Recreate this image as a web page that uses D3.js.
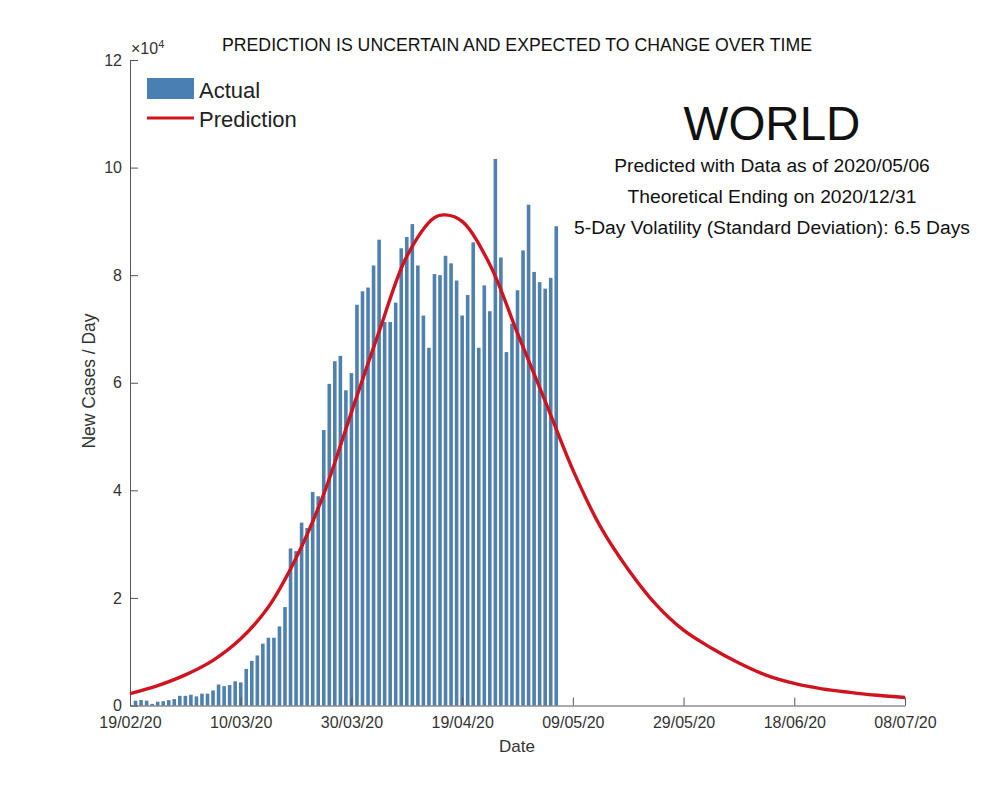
<!DOCTYPE html>
<html>
<head>
<meta charset="utf-8">
<script src="https://cdnjs.cloudflare.com/ajax/libs/d3/7.8.5/d3.min.js"></script>
<style>
    body { margin: 0; background: #fff; }
    text { font-family: "Liberation Sans", Arial, sans-serif; }
</style>
</head>
<body>
<div id="chart"></div>
<script>
// daily new cases, in units of 10^4, first bar is day 1 after 19/02/20
var actualValues = [
    0.09, 0.10, 0.09, 0.03, 0.07, 0.08, 0.10, 0.12, 0.18, 0.18,
    0.20, 0.17, 0.22, 0.22, 0.28, 0.39, 0.36, 0.38, 0.45, 0.43,
    0.68, 0.83, 0.93, 1.15, 1.26, 1.26, 1.47, 1.83, 2.92, 2.87,
    3.40, 3.30, 3.97, 3.89, 5.12, 5.98, 6.40, 6.50, 5.86, 6.18,
    7.45, 7.70, 7.77, 8.18, 8.66, 7.13, 7.13, 7.49, 8.50, 8.71,
    8.95, 8.18, 7.25, 6.65, 8.02, 8.00, 8.36, 8.22, 7.90, 7.25,
    7.63, 8.61, 6.65, 7.81, 7.33, 10.16, 8.33, 6.57, 7.10, 7.72,
    8.46, 9.31, 8.06, 7.87, 7.75, 7.95, 8.91
];

// prediction curve
var predDays = [0, 5, 10, 15, 20, 25, 30, 35, 40, 45, 50, 55, 57, 60, 65, 70, 75, 80, 85, 90, 95, 100, 105, 110, 115, 120, 125, 130, 135, 140];
var predValues = [0.22, 0.37, 0.57, 0.84, 1.24, 1.83, 2.74, 3.93, 5.45, 6.95, 8.35, 9.07, 9.12, 9.00, 8.20, 6.92, 5.66, 4.38, 3.32, 2.53, 1.88, 1.40, 1.07, 0.79, 0.56, 0.41, 0.31, 0.245, 0.19, 0.15];

var xTickDays = [0, 20, 40, 60, 80, 100, 120, 140];
var xTickLabels = ["19/02/20", "10/03/20", "30/03/20", "19/04/20", "09/05/20", "29/05/20", "18/06/20", "08/07/20"];
var yTicks = [0, 2, 4, 6, 8, 10, 12];
var infoLines = ["Predicted with Data as of 2020/05/06", "Theoretical Ending on 2020/12/31", "5-Day Volatility (Standard Deviation): 6.5 Days"];
var infoY = [172, 203, 234];

var width = 1000, height = 793;
var axisColor = "#555";
var textColor = "#333";
var barColor = "#4f80ae";
var lineColor = "#d0141f";

var svg = d3.select("#chart").append("svg")
    .attr("width", width)
    .attr("height", height)
    .style("display", "block");

var xScale = d3.scaleLinear().domain([0, 140]).range([130, 905]);
var yScale = d3.scaleLinear().domain([0, 12]).range([705.5, 60]);

// bars
svg.append("g").selectAll("rect")
    .data(actualValues)
    .enter().append("rect")
    .attr("x", function(d, i) { return xScale(i + 1) - 1.8; })
    .attr("y", function(d) { return yScale(d); })
    .attr("width", 3.6)
    .attr("height", function(d) { return yScale(0) - yScale(d); })
    .attr("fill", barColor);

// axes
var xAxis = d3.axisBottom(xScale)
    .tickValues(xTickDays)
    .tickFormat(function(d, i) { return xTickLabels[i]; })
    .tickSizeInner(-8)
    .tickSizeOuter(0)
    .tickPadding(11);

var yAxis = d3.axisLeft(yScale)
    .tickValues(yTicks)
    .tickSizeInner(-8)
    .tickSizeOuter(0)
    .tickPadding(8);

var gx = svg.append("g")
    .attr("transform", "translate(0," + yScale(0) + ")")
    .call(xAxis);

var gy = svg.append("g")
    .attr("transform", "translate(" + xScale(0) + ",0)")
    .call(yAxis);

[gx, gy].forEach(function(g) {
    g.selectAll("path, line").attr("stroke", axisColor).attr("stroke-width", 1);
    g.selectAll("text").attr("fill", textColor).style("font-size", "16px")
        .style("font-family", '"Liberation Sans", Arial, sans-serif');
});

// prediction line
var line = d3.line()
    .x(function(d, i) { return xScale(d); })
    .y(function(d, i) { return yScale(predValues[i]); })
    .curve(d3.curveCatmullRom);

svg.append("path")
    .attr("d", line(predDays))
    .attr("fill", "none")
    .attr("stroke", lineColor)
    .attr("stroke-width", 3.4);

// axis titles
svg.append("text")
    .attr("x", 517).attr("y", 752)
    .attr("text-anchor", "middle")
    .attr("fill", textColor)
    .style("font-size", "17px")
    .text("Date");

svg.append("text")
    .attr("transform", "translate(95,381) rotate(-90)")
    .attr("text-anchor", "middle")
    .attr("fill", textColor)
    .style("font-size", "17.5px")
    .text("New Cases / Day");

// exponent label
var expo = svg.append("text")
    .attr("x", 131).attr("y", 54)
    .attr("fill", textColor)
    .style("font-size", "16px");
expo.append("tspan").text("\u00d710");
expo.append("tspan").attr("dy", -6).style("font-size", "11px").text("4");

// headings
svg.append("text")
    .attr("x", 517).attr("y", 51)
    .attr("text-anchor", "middle")
    .attr("fill", "#111")
    .style("font-size", "17.7px")
    .text("PREDICTION IS UNCERTAIN AND EXPECTED TO CHANGE OVER TIME");

svg.append("text")
    .attr("x", 772).attr("y", 140)
    .attr("text-anchor", "middle")
    .attr("fill", "#111")
    .style("font-size", "47.5px")
    .text("WORLD");

svg.append("g").selectAll("text")
    .data(infoLines)
    .enter().append("text")
    .attr("x", 772)
    .attr("y", function(d, i) { return infoY[i]; })
    .attr("text-anchor", "middle")
    .attr("fill", "#111")
    .style("font-size", "19.25px")
    .text(function(d) { return d; });

// legend
svg.append("rect")
    .attr("x", 147).attr("y", 78)
    .attr("width", 47).attr("height", 21)
    .attr("fill", "#4a7fb3");
svg.append("line")
    .attr("x1", 147).attr("x2", 194)
    .attr("y1", 118).attr("y2", 118)
    .attr("stroke", lineColor)
    .attr("stroke-width", 3);
svg.append("text")
    .attr("x", 199).attr("y", 98)
    .attr("fill", "#222")
    .style("font-size", "22px")
    .text("Actual");
svg.append("text")
    .attr("x", 199).attr("y", 127)
    .attr("fill", "#222")
    .style("font-size", "22px")
    .text("Prediction");
</script>
</body>
</html>
